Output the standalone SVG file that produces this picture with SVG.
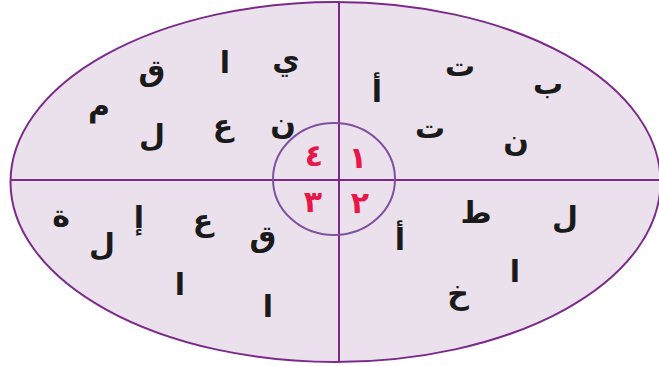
<svg xmlns="http://www.w3.org/2000/svg" width="659" height="366" viewBox="0 0 659 366">
<style>
.l{font-family:"DejaVu Sans",sans-serif;font-weight:bold;font-size:30px;fill:#1a1a1a;text-anchor:middle}
.n{font-family:"DejaVu Sans",sans-serif;font-weight:bold;font-size:30px;fill:#e8174a;text-anchor:middle}
</style>
<rect width="659" height="366" fill="#fff"/>
<g id="outer">
<ellipse cx="335.5" cy="182" rx="325" ry="180" fill="#ebe1ec" stroke="#7b2a8a" stroke-width="2"/>
</g>
<g id="connectors" stroke="#7b2a8a" stroke-width="2">
<line x1="339" y1="2" x2="339" y2="362"/>
<line x1="10" y1="180" x2="660" y2="180"/>
</g>
<g id="inner">
<ellipse cx="334" cy="179" rx="61" ry="56" fill="none" stroke="#8050a0" stroke-width="2"/>
<text class="n" x="314" y="166">٤</text>
<text class="n" x="358" y="168">١</text>
<text class="n" x="313" y="212">٣</text>
<text class="n" x="360" y="213">٢</text>
</g>
<g id="q4">
<text class="l" x="286" y="70">ي</text>
<text class="l" x="225" y="73">ا</text>
<text class="l" x="152" y="81">ق</text>
<text class="l" x="99" y="116">م</text>
<text class="l" x="152" y="146">ل</text>
<text class="l" x="223" y="136">ع</text>
<text class="l" x="283" y="134">ن</text>
</g>
<g id="q1">
<text class="l" x="460" y="76">ت</text>
<text class="l" x="548" y="94">ب</text>
<text class="l" x="377" y="102">أ</text>
<text class="l" x="430" y="138">ت</text>
<text class="l" x="516" y="151">ن</text>
</g>
<g id="q3">
<text class="l" x="61" y="226">ة</text>
<text class="l" x="139" y="228">إ</text>
<text class="l" x="203" y="231">ع</text>
<text class="l" x="263" y="247">ق</text>
<text class="l" x="102" y="255">ل</text>
<text class="l" x="180" y="295">ا</text>
<text class="l" x="268" y="317">ا</text>
</g>
<g id="q2">
<text class="l" x="476" y="223">ط</text>
<text class="l" x="565" y="228">ل</text>
<text class="l" x="400" y="250">أ</text>
<text class="l" x="515" y="282">ا</text>
<text class="l" x="458" y="304">خ</text>
</g>
</svg>
